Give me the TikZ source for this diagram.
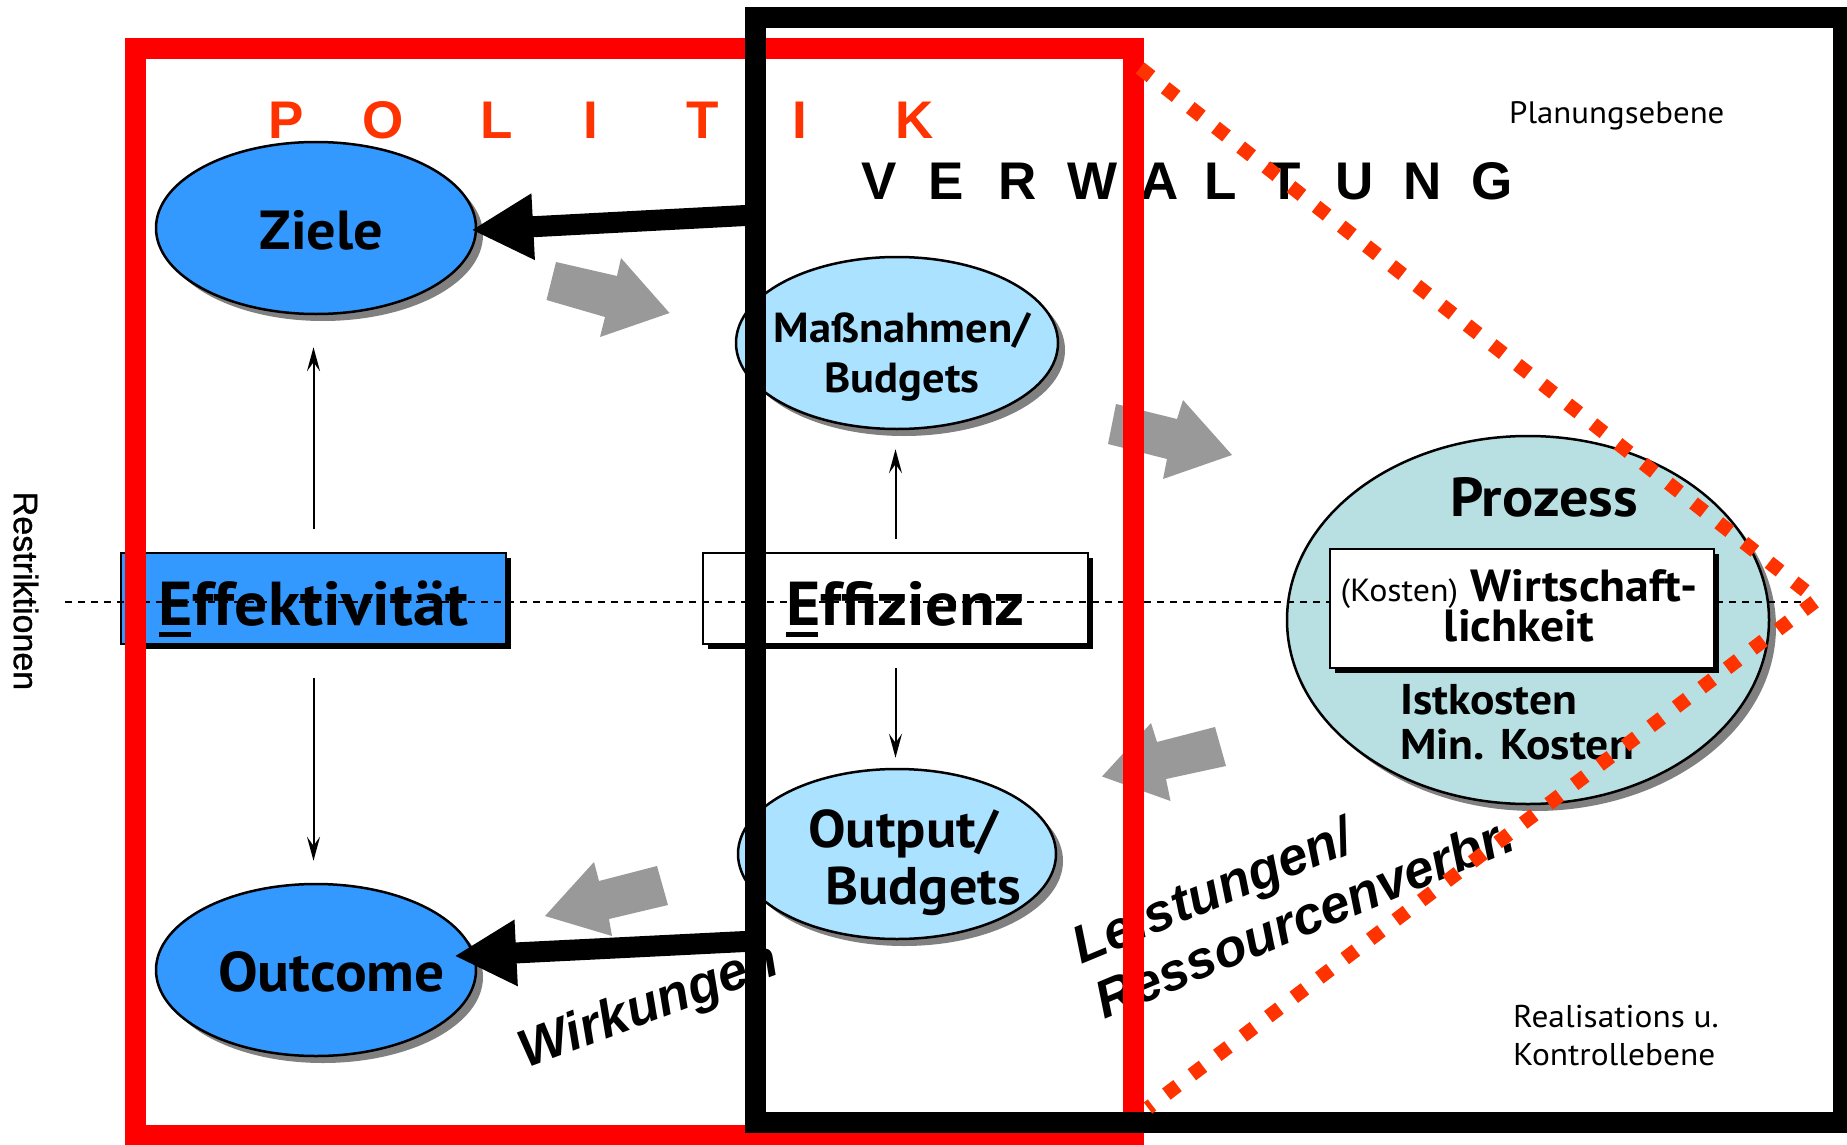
\documentclass[tikz,border=0pt]{standalone}
\usepackage{fontspec}
\setmainfont{PT Sans}[FakeStretch=1.06]
\newfontfamily\helv{Liberation Sans}
\newfontfamily\restrfont{Liberation Sans}[FakeBold=1]
\usetikzlibrary{shapes.geometric,arrows.meta,shadows}
\definecolor{polred}{HTML}{FF3300}
\definecolor{dkblue}{HTML}{3399FF}
\definecolor{ltblue}{HTML}{AAE2FF}
\definecolor{prozfill}{HTML}{B8E0E2}
\definecolor{arrgray}{HTML}{999999}
\definecolor{shadowgray}{HTML}{808080}
\definecolor{framered}{HTML}{FF0000}
\newcommand{\fsz}[2]{\fontsize{#1pt}{#2pt}\selectfont}
\newcommand{\ulE}{\rlap{\rule[-0.2em]{0.52em}{0.085em}}E}
\tikzset{
  ell/.style={ellipse, draw=black, line width=2.5pt, inner sep=0pt,
    general shadow={fill=shadowgray, shadow xshift=7pt, shadow yshift=-7pt}},
  boxnode/.style={rectangle, draw=black, line width=2pt, inner sep=0pt,
    general shadow={fill=black, shadow xshift=5pt, shadow yshift=-5pt}},
  grayarrow/.style={fill=arrgray},
  thinarr/.style={line width=2pt, -{Stealth[length=24pt,width=13pt,inset=9pt]}},
  thickarr/.style={line width=21pt, -{Triangle[length=62pt,width=62pt]}},
  frameline/.style={line width=21pt, line join=miter},
  dotline/.style={polred, line width=14pt, dash pattern=on 14pt off 18pt},
  bold/.style={font=\bfseries\fsz{#1}{#1}},
}
\begin{document}
\begin{tikzpicture}[x=1pt,y=-1pt]
\useasboundingbox (0,0) rectangle (1847,1145);
\clip (0,0) rectangle (1847,1145);
\fill[white] (0,0) rectangle (1847,1145);

% gray block arrows
\fill[grayarrow] (546.5,300) -- (556,262) -- (617,276) -- (621,258) -- (669.5,313) -- (600,337) -- (605,317) -- cycle;
\fill[grayarrow] (1108,444) -- (1116,404) -- (1177,419) -- (1183,400) -- (1232,455) -- (1163,479) -- (1167,459) -- cycle;
\fill[grayarrow] (1102,776.5) -- (1151,723) -- (1157,742) -- (1215,727) -- (1226,766) -- (1166,779) -- (1170.5,801) -- cycle;
\fill[grayarrow] (545,916) -- (594,862) -- (599,881) -- (657,866) -- (668,905) -- (609,919) -- (612,936) -- cycle;

% ellipses
\node[ell, fill=dkblue, minimum width=320pt, minimum height=172pt] (ziele) at (316,228) {};
\node[ell, fill=dkblue, minimum width=320pt, minimum height=172pt] (outcome) at (316,970) {};
\node[ell, fill=ltblue, minimum width=322pt, minimum height=172pt] (massn) at (897,343) {};
\node[ell, fill=ltblue, minimum width=318pt, minimum height=170pt] (output) at (897,854) {};
\node[ell, fill=prozfill, minimum width=482pt, minimum height=368pt] (prozess) at (1528,620) {};

\node[anchor=base, bold=55] (zieletxt) at (321.5,249) {Ziele};
\node[anchor=base, bold=56] (outcometxt) at (331.5,991) {Outcome};
\node[anchor=base, align=center, font=\bfseries\fsz{42}{49.6}] (massntxt) at (902,392) {Maßnahmen/\\Budgets};
\node[anchor=base west, align=left, inner sep=0pt, font=\bfseries\fsz{53}{57.7}] (outputtxt) at (808,904.7) {Output/\\\hspace*{17pt}Budgets};
\node[anchor=base, bold=55] (proztxt) at (1544,516.6) {Prozess};

% boxes
\node[boxnode, fill=dkblue, minimum width=385pt, minimum height=91pt, text height=72pt, text depth=19pt, font=\bfseries\fsz{62}{72}] (effek) at (313.5,598.5) {\ulE ffektivität};
\node[boxnode, fill=white, minimum width=385pt, minimum height=91pt, text height=72pt, text depth=19pt, font=\bfseries\fsz{62}{72}] (effiz) at (895.5,598.5) {\hspace*{20pt}\ulE ffizienz};

% dashed line
\coordinate (dl) at (65,602);
\coordinate (dr) at (1808,602);
\draw[line width=1.7pt, dash pattern=on 7pt off 6pt] (dl) -- (dr);

% Wirtschaftlichkeit box
\node[boxnode, fill=white, minimum width=384pt, minimum height=119pt] (wirt) at (1522,608.5) {};
\node[anchor=base, align=center, font=\bfseries\fsz{45}{40}] (wirttxt) at (1519,641.7) {{\mdseries\fsz{32}{40}(Kosten)} Wirtschaft-\\lichkeit};
\node[anchor=base west, align=left, inner sep=0pt, font=\bfseries\fsz{43}{45}] (ist) at (1400,759) {Istkosten\\Min. Kosten};

% thin arrows
\draw[thinarr, shorten <=23pt, shorten >=32pt] (effek.north) -- (effek.north |- ziele.south);
\draw[thinarr, shorten <=33pt, shorten >=22pt] (effek.south) -- (effek.south |- outcome.north);
\draw[thinarr, shorten <=13pt, shorten >=19pt] (effiz.north) -- (effiz.north |- massn.south);
\draw[thinarr, shorten <=23pt, shorten >=10pt] (effiz.south) -- (effiz.south |- output.north);

% thick arrows
\coordinate (zsrc) at (755,215);
\coordinate (osrc) at (755,941);
\draw[thickarr] (zsrc) -- ([xshift=-6pt,yshift=-2pt]ziele.east);
\draw[thickarr] (osrc) -- ([xshift=-23pt,yshift=14pt]outcome.east);

% titles
\foreach \ch/\xx [count=\i] in {P/268,O/362,L/480,I/583,T/686,I/792,K/895}
  \node[anchor=base west, inner sep=0pt, text=polred, font=\helv\bfseries\fsz{53}{60}] (pol\i) at (\xx,138.5) {\ch};
\foreach \ch/\xx [count=\i] in {V/861,E/928,R/998,W/1067,A/1140,L/1204,T/1268,U/1335,N/1403,G/1471}
  \node[anchor=base west, inner sep=0pt, text=black, font=\helv\bfseries\fsz{53}{60}] (verw\i) at (\xx,199) {\ch};

\node[anchor=base west, inner sep=0pt, font=\fsz{31}{36}] (plan) at (1509,124) {Planungsebene};
\node[anchor=base west, inner sep=0pt, align=left, font=\fsz{31.5}{38.5}] (real) at (1513,1065.5) {Realisations u.\\Kontrollebene};
\node[rotate=-90, inner sep=0pt, font=\restrfont\fsz{34}{36}] (restr) at (26,591) {Restriktionen};
\node[anchor=base west, inner sep=0pt, rotate=20.5, font=\helv\bfseries\itshape\fsz{53}{60}] (wirk) at (526,1069) {Wirkungen};
\node[anchor=base west, inner sep=0pt, rotate=22.5, align=left, font=\helv\bfseries\itshape\fsz{53}{60}] (leist) at (1104,1020) {Leistungen/\\Ressourcenverbr.};

% frames
\draw[framered, frameline] (135,49) rectangle (1133,1135);
\draw[black, frameline] (755,18) rectangle (1843,1122);

% dotted red lines
\coordinate (dtop) at (1140,68);
\coordinate (dapex) at (1817,600);
\coordinate (dbot) at (1148,1108);
\draw[dotline] (dtop) -- (dapex) -- (dbot);
\end{tikzpicture}
\end{document}
